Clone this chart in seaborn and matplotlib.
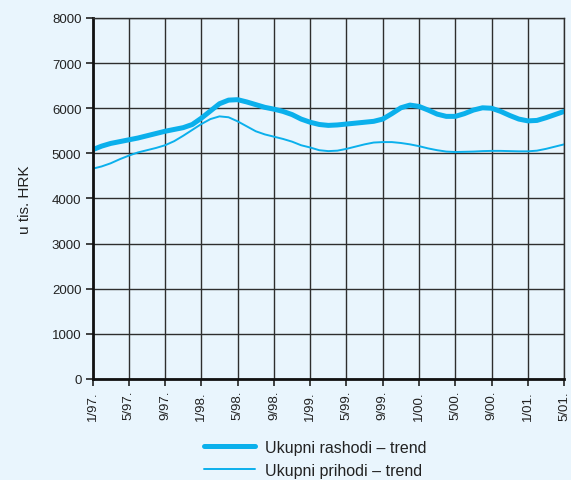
import matplotlib
matplotlib.use("Agg")
import matplotlib.pyplot as plt
import seaborn as sns
import pandas as pd
from matplotlib.lines import Line2D

# Monthly trend values, January 1997 - May 2001 (thousand HRK)
months = [f"{m}/{y:02d}." for y in (97, 98, 99, 0, 1) for m in range(1, 13)][:53]

rashodi = [
    5080, 5160, 5220, 5260, 5300, 5340, 5390, 5440, 5490, 5530, 5570, 5640,
    5780, 5940, 6100, 6180, 6190, 6140, 6080, 6020, 5980, 5930, 5860, 5760,
    5690, 5640, 5620, 5630, 5650, 5670, 5690, 5710, 5760, 5880, 6010, 6070,
    6040, 5960, 5870, 5820, 5820, 5880, 5960, 6010, 6000, 5930, 5840, 5760,
    5720, 5730, 5790, 5860, 5930,
]
prihodi = [
    4660, 4710, 4780, 4870, 4950, 5020, 5070, 5120, 5180, 5270, 5390, 5520,
    5650, 5760, 5820, 5800, 5710, 5600, 5490, 5420, 5370, 5320, 5260, 5180,
    5130, 5070, 5050, 5060, 5100, 5150, 5200, 5240, 5250, 5250, 5230, 5200,
    5160, 5110, 5070, 5040, 5030, 5035, 5040, 5050, 5055, 5055, 5050, 5045,
    5045, 5060, 5100, 5150, 5200,
]
tick_labels = ["1/97.", "5/97.", "9/97.", "1/98.", "5/98.", "9/98.", "1/99.",
               "5/99.", "9/99.", "1/00.", "5/00.", "9/00.", "1/01.", "5/01."]
series_names = ["Ukupni rashodi – trend", "Ukupni prihodi – trend"]

BG = "#e9f5fd"
LINE = "#0bb0ec"
GRID = "#2e2e2e"

sns.set_theme(style="white")
plt.rcParams["font.family"] = ["Liberation Sans", "DejaVu Sans"]

df = pd.DataFrame({
    "t": list(range(len(months))) * 2,
    "value": rashodi + prihodi,
    "series": [series_names[0]] * len(rashodi) + [series_names[1]] * len(prihodi),
})

fig = plt.figure(figsize=(5.71, 4.81), dpi=100, facecolor=BG)
ax = fig.add_axes([0.162, 0.21, 0.826, 0.7505])
ax.set_facecolor(BG)

sns.lineplot(data=df, x="t", y="value", hue="series", size="series",
             sizes={series_names[0]: 3.6, series_names[1]: 1.4},
             palette={series_names[0]: LINE, series_names[1]: LINE},
             legend=False, ax=ax)

ax.set_xlim(0, len(months) - 1)
ax.set_ylim(0, 8000)
ax.set_xticks(range(0, len(months), 4))
ax.set_xticklabels(tick_labels, rotation=90, fontsize=9.5, color="#222222")
ax.set_yticks(range(0, 8001, 1000))
ax.set_yticklabels([str(v) for v in range(0, 8001, 1000)], fontsize=9.5, color="#222222")
ax.set_xlabel("")
ax.set_ylabel("u tis. HRK", fontsize=11, color="#222222", labelpad=14)

ax.grid(True, color=GRID, linewidth=1.0)
ax.set_axisbelow(True)
for side in ("top", "right"):
    ax.spines[side].set_color(GRID)
    ax.spines[side].set_linewidth(1.0)
for side in ("left", "bottom"):
    ax.spines[side].set_color("#111111")
    ax.spines[side].set_linewidth(2.0)
ax.tick_params(axis="both", which="major", direction="out", length=5, width=1.2,
               color="#222222", left=True, bottom=True, pad=3)

handles = [Line2D([], [], color=LINE, lw=3.6), Line2D([], [], color=LINE, lw=1.4)]
fig.legend(handles, series_names, loc="upper left", bbox_to_anchor=(0.357, 0.083),
           frameon=False, fontsize=11.5, handlelength=3.2, handletextpad=0.6,
           labelspacing=0.5, borderaxespad=0, borderpad=0, labelcolor="#222222")

fig.savefig("out.png", dpi=100, facecolor=BG)
